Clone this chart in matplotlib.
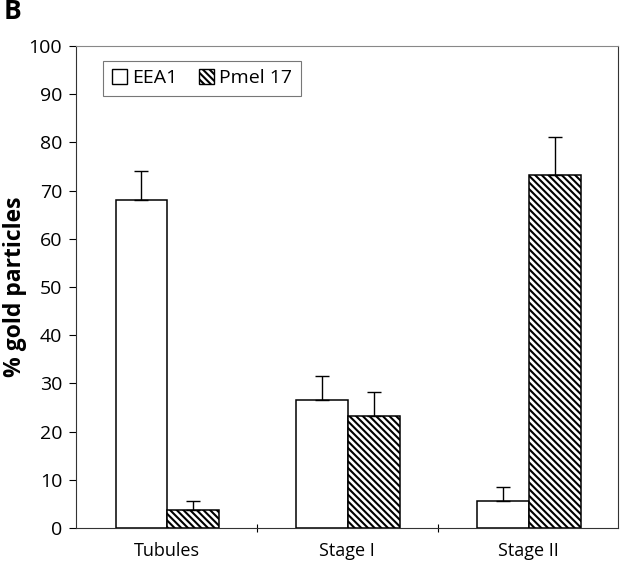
import numpy as np
import matplotlib
matplotlib.use('Agg')
import matplotlib.pyplot as plt
from matplotlib.patches import Patch

plt.rcParams['font.family'] = ['Open Sans', 'DejaVu Sans']
plt.rcParams['hatch.linewidth'] = 1.5

# data
categories = ['Tubules', 'Stage I', 'Stage II']
eea1 = [68, 26.5, 5.6]
eea1_err = [6, 5, 3]
pmel17 = [3.7, 23.2, 73.2]
pmel17_err = [2, 5, 8]

fig = plt.figure(figsize=(6.4, 5.71), dpi=100)
ax = fig.add_axes([0.119, 0.0753, 0.847, 0.844])

x = np.arange(len(categories))
w = 0.287
hatch = '\\' * 5

ax.bar(x - w / 2 + 0.005, eea1, w, color='white', edgecolor='black', linewidth=1.1, label='EEA1')
ax.bar(x + w / 2 + 0.005, pmel17, w, color='white', edgecolor='black', linewidth=1.1,
       hatch=hatch, label='Pmel 17')

# upper error bars only
ax.errorbar(x - w / 2 + 0.005, eea1, yerr=[np.zeros(3), eea1_err], fmt='none',
            ecolor='black', elinewidth=1, capsize=5, capthick=1)
ax.errorbar(x + w / 2 + 0.005, pmel17, yerr=[np.zeros(3), pmel17_err], fmt='none',
            ecolor='black', elinewidth=1, capsize=5, capthick=1)

ax.set_xlim(-0.5, 2.5)
ax.set_ylim(0, 100)
ax.set_yticks(range(0, 101, 10))
ax.tick_params(axis='y', labelsize=14, length=5, width=0.8, direction='out', pad=5)

# separators between categories, labels centered
ax.set_xticks([0.5, 1.5])
ax.set_xticklabels([])
ax.tick_params(axis='x', which='major', length=6, width=0.8, direction='inout')
ax.set_xticks(x, minor=True)
ax.set_xticklabels(categories, minor=True, fontsize=13)
ax.tick_params(axis='x', which='minor', length=0, pad=10)

for s in ax.spines.values():
    s.set_linewidth(0.8)
    s.set_color('#333333')
ax.spines['top'].set_color('#888888')

ax.set_ylabel('% gold particles', fontsize=16.5, fontweight='bold', labelpad=1)

handles = [Patch(facecolor='white', edgecolor='black', label='EEA1'),
           Patch(facecolor='white', edgecolor='black', hatch=hatch, label='Pmel 17')]
leg = ax.legend(handles=handles, loc='upper left', bbox_to_anchor=(0.05, 0.97), ncol=2,
                fontsize=14, frameon=True, fancybox=False, handlelength=0.75, handleheight=0.75,
                handletextpad=0.3, columnspacing=1.1, borderpad=0.45, borderaxespad=0)
leg.get_frame().set_edgecolor('#555555')
leg.get_frame().set_linewidth(0.8)

fig.text(0.006, 0.979, 'B', fontsize=19, fontweight='bold', va='center', ha='left')

fig.savefig('out.png', dpi=100)
